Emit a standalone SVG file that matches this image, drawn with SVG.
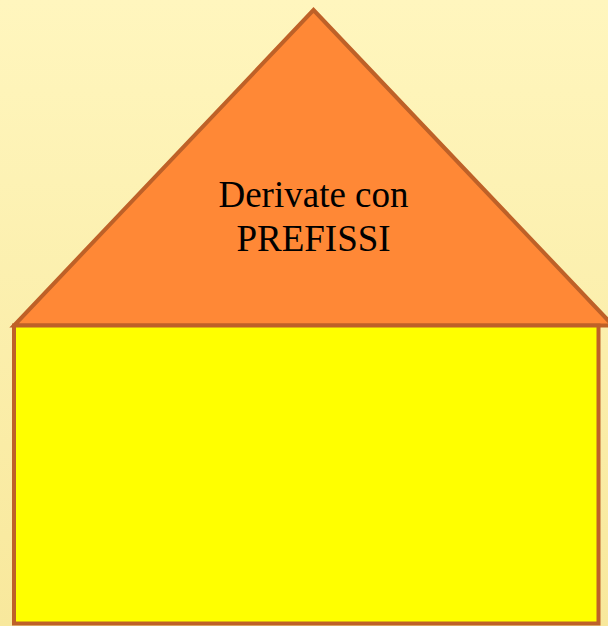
<svg xmlns="http://www.w3.org/2000/svg" width="608" height="626" viewBox="0 0 608 626">
<defs>
<linearGradient id="bg" x1="0" y1="0" x2="0" y2="1">
<stop offset="0" stop-color="#FFF6BE"/>
<stop offset="1" stop-color="#F8E89C"/>
</linearGradient>
<style>
.shape{stroke:#BE6128;stroke-width:4;stroke-linejoin:miter}
.lbl{font-family:"Liberation Serif","Times New Roman",serif;font-size:37px;fill:#000;text-anchor:middle}
</style>
</defs>
<rect x="0" y="0" width="608" height="626" fill="url(#bg)"/>
<g id="roof">
<polygon class="shape" points="313.5,10 613,325.5 14,325.5" fill="#FF8836"/>
<text class="lbl" x="313.5" y="207">Derivate con</text>
<text class="lbl" x="313.5" y="251">PREFISSI</text>
</g>
<g id="house">
<rect class="shape" x="14" y="325.5" width="584.5" height="298" fill="#FFFF00"/>
</g>
</svg>
